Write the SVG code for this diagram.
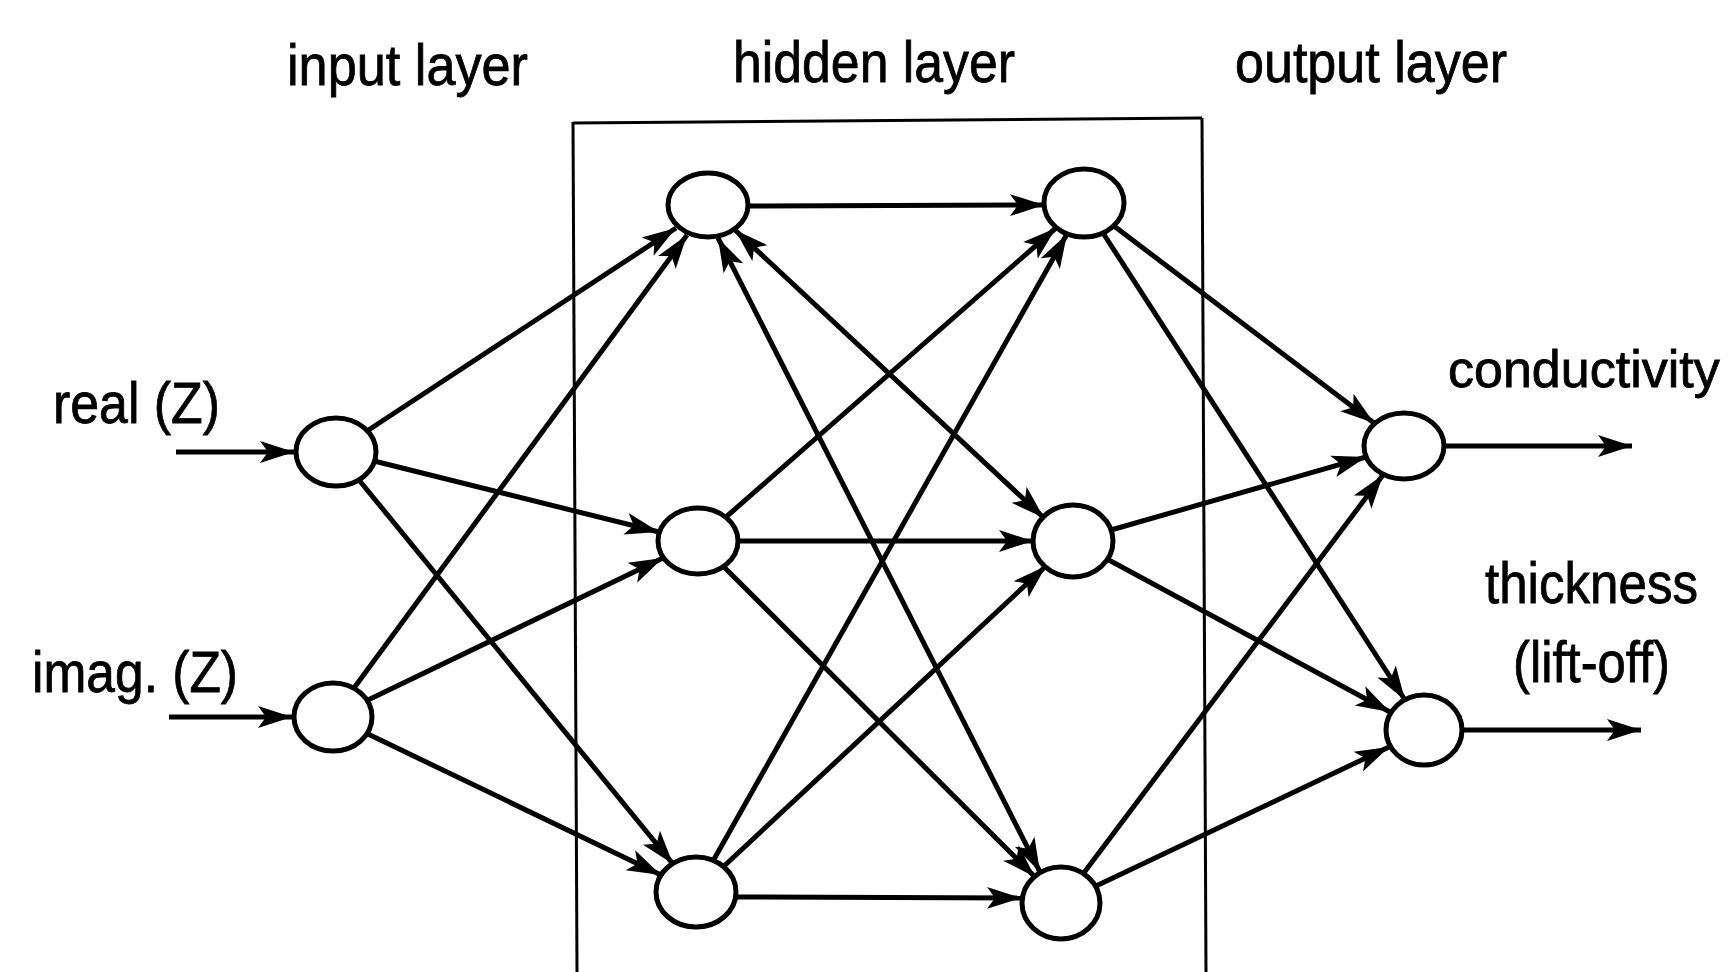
<svg xmlns="http://www.w3.org/2000/svg" width="1729" height="972" viewBox="0 0 1729 972">
<style>
.bg{fill:#fff}
.lbl{font-family:"Liberation Sans",Arial,sans-serif;font-size:58px;fill:#000;stroke:#000;stroke-width:0.8}
.node{fill:#fff;stroke:#000;stroke-width:5}
.edge{stroke:#000;stroke-width:5;fill:none;marker-end:url(#ah)}
.both{marker-start:url(#ah)}
.box{stroke:#000;stroke-width:3;fill:none}
</style>
<defs>
<marker id="ah" markerUnits="userSpaceOnUse" markerWidth="36" markerHeight="26" refX="34" refY="12" orient="auto-start-reverse">
<path d="M0,1 L34,12 L0,23 L8,12 z" fill="#000"/>
</marker>
</defs>
<rect class="bg" x="0" y="0" width="1729" height="972"/>
<g id="labels">
<text class="lbl" x="287" y="85" textLength="241" lengthAdjust="spacingAndGlyphs">input layer</text>
<text class="lbl" x="733" y="82" textLength="282" lengthAdjust="spacingAndGlyphs">hidden layer</text>
<text class="lbl" x="1235" y="82" textLength="272" lengthAdjust="spacingAndGlyphs">output layer</text>
<text class="lbl" x="53" y="423" textLength="167" lengthAdjust="spacingAndGlyphs">real (Z)</text>
<text class="lbl" x="32" y="692" textLength="206" lengthAdjust="spacingAndGlyphs">imag. (Z)</text>
<text class="lbl" x="1448" y="387" style="font-size:52px">conductivity</text>
<text class="lbl" x="1485" y="603" textLength="213" lengthAdjust="spacingAndGlyphs">thickness</text>
<text class="lbl" x="1513" y="682" textLength="157" lengthAdjust="spacingAndGlyphs">(lift-off)</text>
</g>
<g id="hidden-box">
<path class="box" d="M573,123 L1202,118" stroke-width="5"/>
<path class="box" d="M573,122 L577,972"/>
<path class="box" d="M1202,118 L1206,972"/>
</g>
<g id="connectors">
<line class="edge" x1="176" y1="452" x2="294" y2="452"/>
<line class="edge" x1="169" y1="717" x2="292" y2="717"/>
<line class="edge" x1="367" y1="431" x2="676" y2="228"/>
<line class="edge" x1="374" y1="461" x2="659" y2="532"/>
<line class="edge" x1="359" y1="480" x2="673" y2="864"/>
<line class="edge" x1="354" y1="688" x2="687" y2="235"/>
<line class="edge" x1="368" y1="700" x2="663" y2="558"/>
<line class="edge" x1="368" y1="734" x2="661" y2="875"/>
<line class="edge" x1="748" y1="206" x2="1044" y2="205"/>
<line class="edge both" x1="735" y1="230" x2="1044" y2="518"/>
<line class="edge both" x1="718" y1="238" x2="1040" y2="872"/>
<line class="edge" x1="726" y1="517" x2="1056" y2="228"/>
<line class="edge" x1="738" y1="541" x2="1033" y2="541"/>
<line class="edge" x1="724" y1="567" x2="1035" y2="877"/>
<line class="edge" x1="713" y1="861" x2="1067" y2="234"/>
<line class="edge" x1="723" y1="867" x2="1046" y2="566"/>
<line class="edge" x1="737" y1="897" x2="1021" y2="898"/>
<line class="edge" x1="1114" y1="226" x2="1374" y2="423"/>
<line class="edge" x1="1103" y1="233" x2="1405" y2="700"/>
<line class="edge" x1="1111" y1="530" x2="1366" y2="457"/>
<line class="edge" x1="1107" y1="559" x2="1390" y2="712"/>
<line class="edge" x1="1083" y1="874" x2="1383" y2="475"/>
<line class="edge" x1="1096" y1="886" x2="1389" y2="747"/>
<line class="edge" x1="1444" y1="446" x2="1632" y2="446"/>
<line class="edge" x1="1462" y1="730" x2="1641" y2="730"/>
</g>
<g id="in-real"><ellipse class="node" cx="336" cy="452" rx="40" ry="34"/></g>
<g id="in-imag"><ellipse class="node" cx="333" cy="717" rx="39" ry="34"/></g>
<g id="h1-top"><ellipse class="node" cx="708" cy="205" rx="40" ry="32"/></g>
<g id="h1-mid"><ellipse class="node" cx="698" cy="541" rx="40" ry="33"/></g>
<g id="h1-bot"><ellipse class="node" cx="696" cy="892" rx="40" ry="35"/></g>
<g id="h2-top"><ellipse class="node" cx="1084" cy="203" rx="40" ry="34"/></g>
<g id="h2-mid"><ellipse class="node" cx="1073" cy="541" rx="40" ry="36"/></g>
<g id="h2-bot"><ellipse class="node" cx="1061" cy="903" rx="39" ry="36"/></g>
<g id="out-cond"><ellipse class="node" cx="1404" cy="446" rx="40" ry="33"/></g>
<g id="out-thick"><ellipse class="node" cx="1424" cy="730" rx="38" ry="35"/></g>
</svg>
